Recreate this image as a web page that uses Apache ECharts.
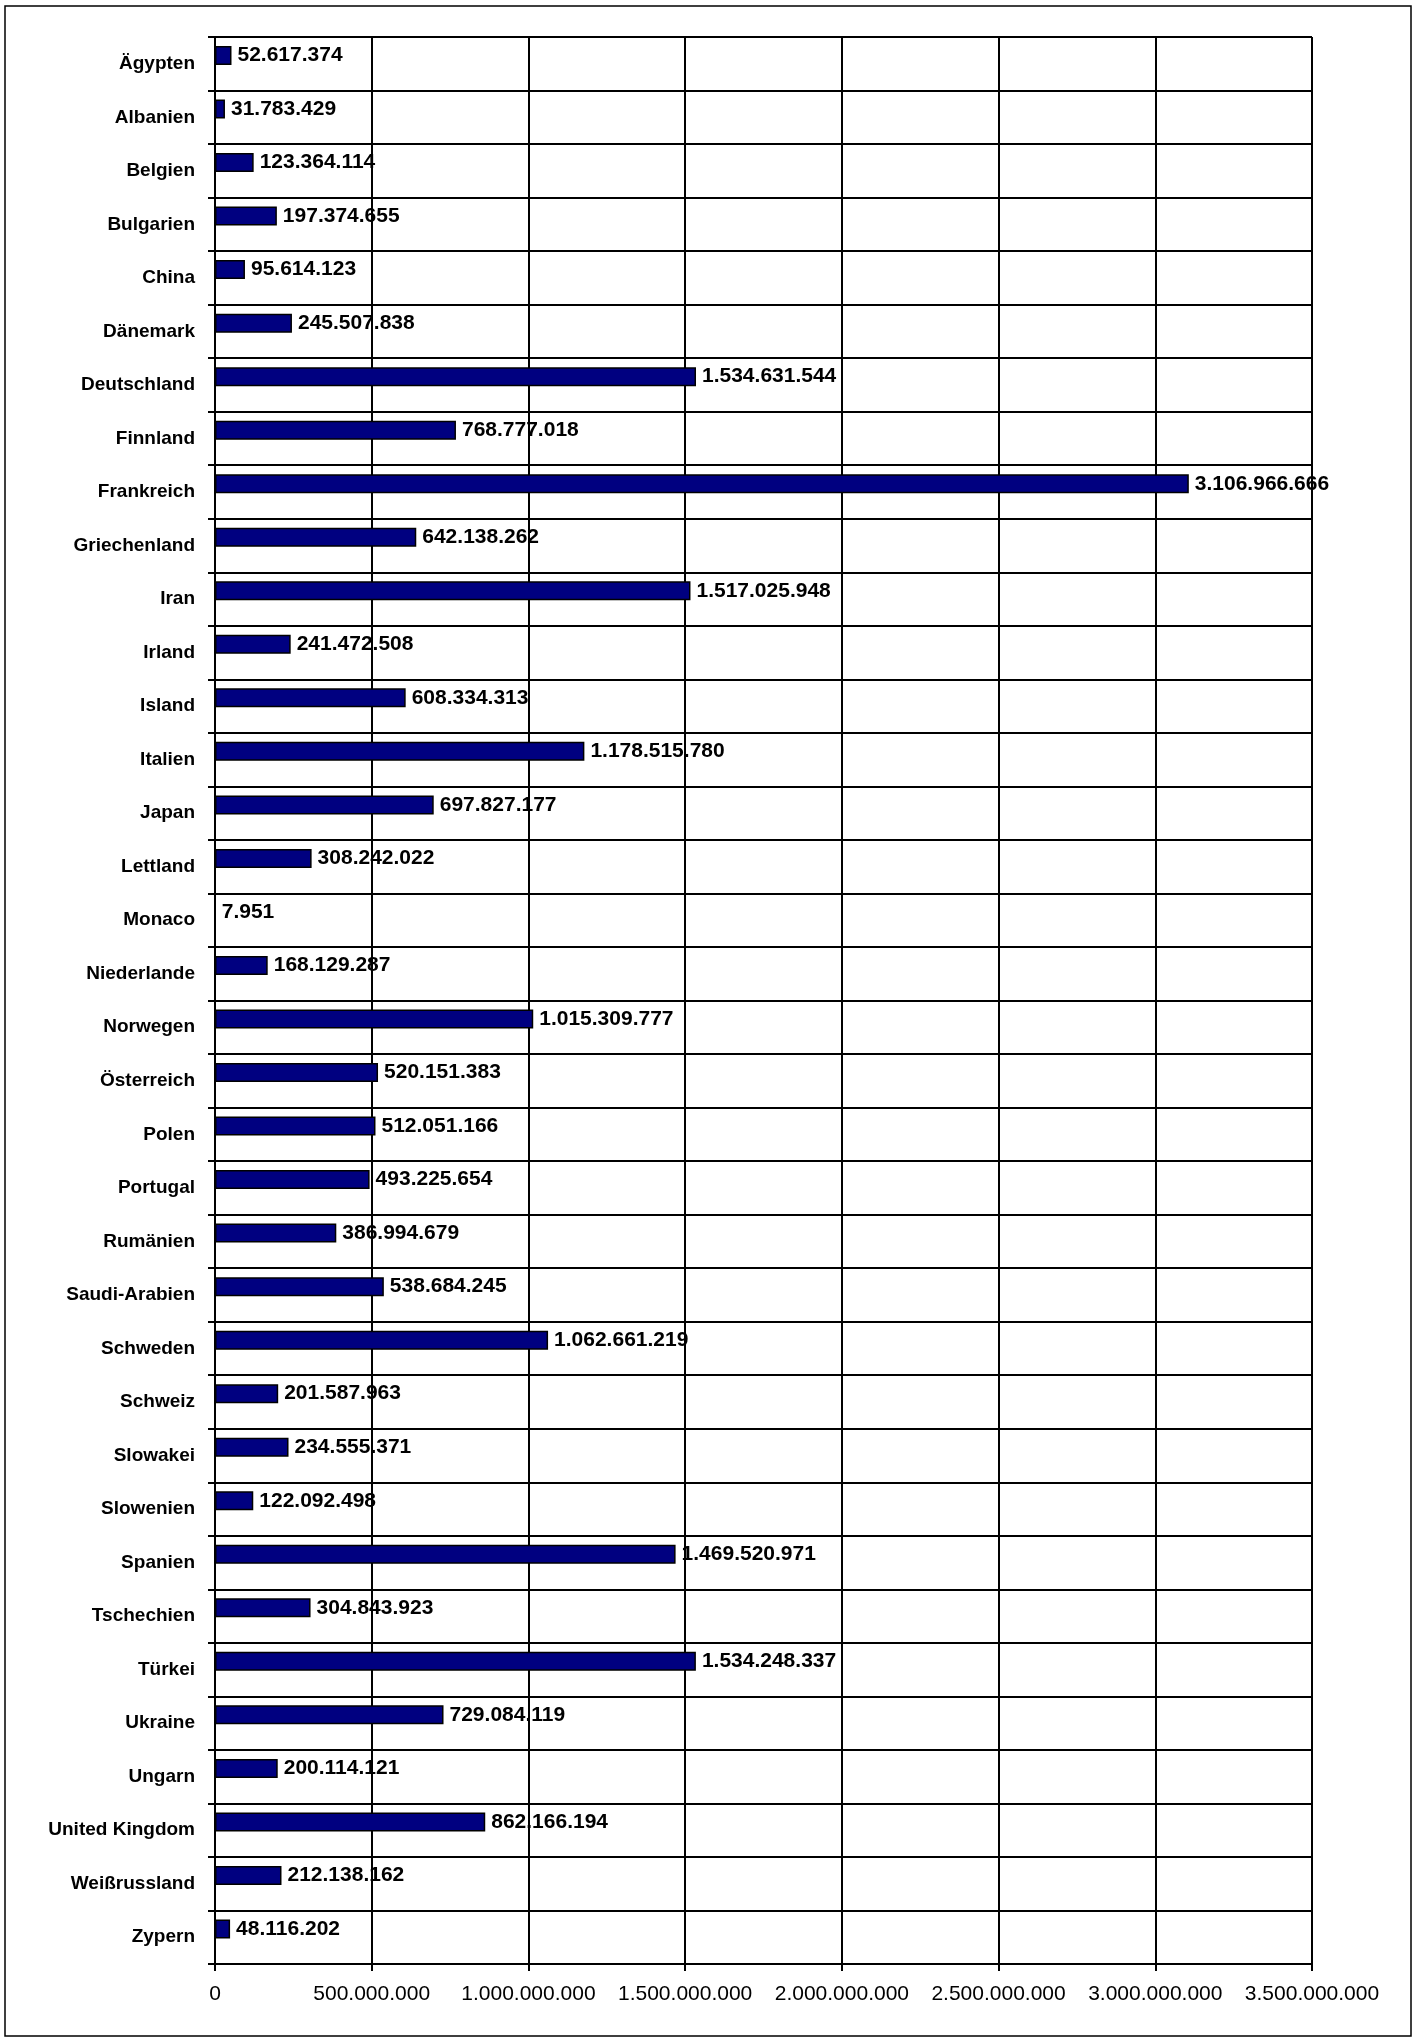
<!DOCTYPE html>
<html>
<head>
<meta charset="utf-8">
<script src="https://cdn.jsdelivr.net/npm/echarts@6/dist/echarts.min.js"></script>
<style>
html,body{margin:0;padding:0;background:#fff;}
#chart{width:1420px;height:2042px;}
</style>
</head>
<body>
<div id="chart"></div>
<script>
const categories = ["Ägypten","Albanien","Belgien","Bulgarien","China","Dänemark","Deutschland","Finnland","Frankreich","Griechenland","Iran","Irland","Island","Italien","Japan","Lettland","Monaco","Niederlande","Norwegen","Österreich","Polen","Portugal","Rumänien","Saudi-Arabien","Schweden","Schweiz","Slowakei","Slowenien","Spanien","Tschechien","Türkei","Ukraine","Ungarn","United Kingdom","Weißrussland","Zypern"];
const values = [52617374,31783429,123364114,197374655,95614123,245507838,1534631544,768777018,3106966666,642138262,1517025948,241472508,608334313,1178515780,697827177,308242022,7951,168129287,1015309777,520151383,512051166,493225654,386994679,538684245,1062661219,201587963,234555371,122092498,1469520971,304843923,1534248337,729084119,200114121,862166194,212138162,48116202];
const axisMin = 0, axisMax = 3500000000, axisStep = 500000000;

function fmt(v){ return String(Math.round(v)).replace(/\B(?=(\d{3})+(?!\d))/g, '.'); }
const FONT = "'Liberation Sans', Arial, sans-serif";

const chart = echarts.init(document.getElementById('chart'), null, {renderer:'canvas'});
chart.setOption({
  animation:false,
  backgroundColor:'#ffffff',
  graphic:[{type:'rect', shape:{x:5,y:6,width:1406,height:2030}, style:{fill:'none', stroke:'#000', lineWidth:1.5}, silent:true}],
  grid:{left:215, right:108, top:37, bottom:78, containLabel:false},
  xAxis:{
    type:'value', min:axisMin, max:axisMax, interval:axisStep,
    axisLine:{show:true, lineStyle:{color:'#000', width:2}},
    axisTick:{show:true, length:7, lineStyle:{color:'#000', width:2}},
    splitLine:{show:true, lineStyle:{color:'#000', width:2}},
    axisLabel:{formatter:fmt, color:'#000', fontFamily:FONT, fontSize:21, margin:20}
  },
  yAxis:{
    type:'category', data:categories, inverse:true,
    axisLine:{show:true, lineStyle:{color:'#000', width:2}},
    axisTick:{show:true, length:7, lineStyle:{color:'#000', width:2}},
    splitLine:{show:true, lineStyle:{color:'#000', width:2}},
    axisLabel:{color:'#000', fontFamily:FONT, fontSize:19, fontWeight:'bold', margin:20}
  },
  series:[
    {type:'bar', data:values, barWidth:19, barGap:'-13%',
     itemStyle:{color:'#000080', borderColor:'#000', borderWidth:1.5},
     label:{show:true, position:'right', distance:6, formatter:p=>fmt(p.value), color:'#000', fontFamily:FONT, fontSize:21, fontWeight:'bold'}
    },
    {type:'bar', data:[], barWidth:19, barGap:'-13%'}
  ]
});
</script>
</body>
</html>
